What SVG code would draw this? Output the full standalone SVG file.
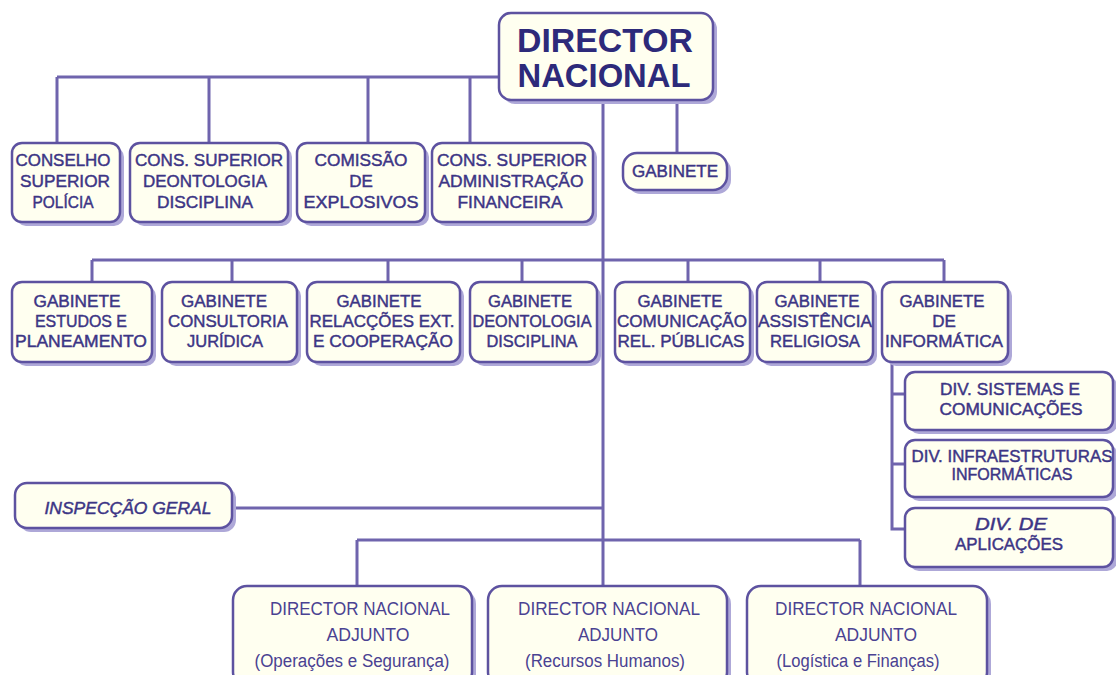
<svg xmlns="http://www.w3.org/2000/svg" width="1116" height="675" viewBox="0 0 1116 675">
<style>
.sh{fill:#aea8d8}
.bx{fill:#fffff0;stroke:#5d52a0;stroke-width:2.5}
.t{font-family:"Liberation Sans",Arial,sans-serif;font-size:17px;fill:#3c3585;stroke:#3c3585;stroke-width:0.45;text-anchor:middle}
.tt{font-family:"Liberation Sans",Arial,sans-serif;font-size:34px;font-weight:bold;fill:#2d2a7a;text-anchor:middle}
.tb{font-family:"Liberation Sans",Arial,sans-serif;font-size:18px;fill:#4a4292;text-anchor:middle}
.i{font-style:italic}
.c{fill:none;stroke:#6f64ad;stroke-width:3}
</style>
<rect width="1116" height="675" fill="#ffffff"/>
<g id="connectors" class="c">
<path d="M57 77H499M57 77V143M209 77V143M368 77V143M470 77V143"/>
<path d="M677 100V153"/>
<path d="M603 100V586"/>
<path d="M92 260H944M92 260V282M232 260V282M388 260V282M522 260V282M688 260V282M820 260V282M944 260V282"/>
<path d="M892 362V529H905M892 394H905M892 464H905"/>
<path d="M232 508H603"/>
<path d="M357 540H860M357 540V586M860 540V586"/>
</g>
<g id="director">
<rect class="sh" x="503" y="17" width="214" height="87" rx="12"/>
<rect class="bx" x="499" y="13" width="214" height="87" rx="12"/>
<text class="tt" x="605" y="52" textLength="176" lengthAdjust="spacingAndGlyphs">DIRECTOR</text>
<text class="tt" x="604" y="87" textLength="173" lengthAdjust="spacingAndGlyphs">NACIONAL</text>
</g>
<g id="conselho">
<rect class="sh" x="16" y="147" width="108" height="79" rx="10"/>
<rect class="bx" x="12" y="143" width="108" height="79" rx="10"/>
<text class="t" x="63" y="166" textLength="95" lengthAdjust="spacingAndGlyphs">CONSELHO</text>
<text class="t" x="65" y="187" textLength="90" lengthAdjust="spacingAndGlyphs">SUPERIOR</text>
<text class="t" x="63" y="208" textLength="61" lengthAdjust="spacingAndGlyphs">POLÍCIA</text>
</g>
<g id="deontologia">
<rect class="sh" x="134" y="147" width="158" height="79" rx="10"/>
<rect class="bx" x="130" y="143" width="158" height="79" rx="10"/>
<text class="t" x="209" y="166" textLength="148" lengthAdjust="spacingAndGlyphs">CONS. SUPERIOR</text>
<text class="t" x="205" y="187" textLength="124" lengthAdjust="spacingAndGlyphs">DEONTOLOGIA</text>
<text class="t" x="205" y="208" textLength="96" lengthAdjust="spacingAndGlyphs">DISCIPLINA</text>
</g>
<g id="explosivos">
<rect class="sh" x="301" y="147" width="128" height="79" rx="10"/>
<rect class="bx" x="297" y="143" width="128" height="79" rx="10"/>
<text class="t" x="361" y="166" textLength="93" lengthAdjust="spacingAndGlyphs">COMISSÃO</text>
<text class="t" x="361" y="187">DE</text>
<text class="t" x="361" y="208" textLength="115" lengthAdjust="spacingAndGlyphs">EXPLOSIVOS</text>
</g>
<g id="administracao">
<rect class="sh" x="436" y="147" width="161" height="79" rx="10"/>
<rect class="bx" x="432" y="143" width="161" height="79" rx="10"/>
<text class="t" x="512" y="166" textLength="150" lengthAdjust="spacingAndGlyphs">CONS. SUPERIOR</text>
<text class="t" x="511" y="187" textLength="145" lengthAdjust="spacingAndGlyphs">ADMINISTRAÇÃO</text>
<text class="t" x="510" y="208" textLength="105" lengthAdjust="spacingAndGlyphs">FINANCEIRA</text>
</g>
<g id="gabinete">
<rect class="sh" x="627" y="157" width="104" height="37" rx="14"/>
<rect class="bx" x="623" y="153" width="104" height="37" rx="14"/>
<text class="t" x="675" y="177" textLength="86" lengthAdjust="spacingAndGlyphs">GABINETE</text>
</g>
<g id="gab-estudos">
<rect class="sh" x="16" y="286" width="140" height="80" rx="10"/>
<rect class="bx" x="12" y="282" width="140" height="80" rx="10"/>
<text class="t" x="77" y="307" textLength="87" lengthAdjust="spacingAndGlyphs">GABINETE</text>
<text class="t" x="81" y="327" textLength="92" lengthAdjust="spacingAndGlyphs">ESTUDOS E</text>
<text class="t" x="81" y="347" textLength="132" lengthAdjust="spacingAndGlyphs">PLANEAMENTO</text>
</g>
<g id="gab-juridica">
<rect class="sh" x="166" y="286" width="135" height="80" rx="10"/>
<rect class="bx" x="162" y="282" width="135" height="80" rx="10"/>
<text class="t" x="224" y="307" textLength="86" lengthAdjust="spacingAndGlyphs">GABINETE</text>
<text class="t" x="228" y="327" textLength="120" lengthAdjust="spacingAndGlyphs">CONSULTORIA</text>
<text class="t" x="225" y="347" textLength="76" lengthAdjust="spacingAndGlyphs">JURÍDICA</text>
</g>
<g id="gab-relacoes">
<rect class="sh" x="311" y="286" width="153" height="80" rx="10"/>
<rect class="bx" x="307" y="282" width="153" height="80" rx="10"/>
<text class="t" x="379" y="307" textLength="85" lengthAdjust="spacingAndGlyphs">GABINETE</text>
<text class="t" x="382" y="327" textLength="145" lengthAdjust="spacingAndGlyphs">RELACÇÕES EXT.</text>
<text class="t" x="383" y="347" textLength="140" lengthAdjust="spacingAndGlyphs">E COOPERAÇÃO</text>
</g>
<g id="gab-deontologia">
<rect class="sh" x="474" y="286" width="127" height="80" rx="10"/>
<rect class="bx" x="470" y="282" width="127" height="80" rx="10"/>
<text class="t" x="530" y="307" textLength="84" lengthAdjust="spacingAndGlyphs">GABINETE</text>
<text class="t" x="532" y="327" textLength="119" lengthAdjust="spacingAndGlyphs">DEONTOLOGIA</text>
<text class="t" x="532" y="347" textLength="91" lengthAdjust="spacingAndGlyphs">DISCIPLINA</text>
</g>
<g id="gab-comunicacao">
<rect class="sh" x="619" y="286" width="135" height="80" rx="10"/>
<rect class="bx" x="615" y="282" width="135" height="80" rx="10"/>
<text class="t" x="680" y="307" textLength="85" lengthAdjust="spacingAndGlyphs">GABINETE</text>
<text class="t" x="682" y="327" textLength="130" lengthAdjust="spacingAndGlyphs">COMUNICAÇÃO</text>
<text class="t" x="681" y="347" textLength="127" lengthAdjust="spacingAndGlyphs">REL. PÚBLICAS</text>
</g>
<g id="gab-assistencia">
<rect class="sh" x="761" y="286" width="116" height="80" rx="10"/>
<rect class="bx" x="757" y="282" width="116" height="80" rx="10"/>
<text class="t" x="817" y="307" textLength="85" lengthAdjust="spacingAndGlyphs">GABINETE</text>
<text class="t" x="815" y="327" textLength="114" lengthAdjust="spacingAndGlyphs">ASSISTÊNCIA</text>
<text class="t" x="815" y="347" textLength="90" lengthAdjust="spacingAndGlyphs">RELIGIOSA</text>
</g>
<g id="gab-informatica">
<rect class="sh" x="886" y="286" width="126" height="80" rx="10"/>
<rect class="bx" x="882" y="282" width="126" height="80" rx="10"/>
<text class="t" x="942" y="307" textLength="85" lengthAdjust="spacingAndGlyphs">GABINETE</text>
<text class="t" x="944" y="327">DE</text>
<text class="t" x="944" y="347" textLength="118" lengthAdjust="spacingAndGlyphs">INFORMÁTICA</text>
</g>
<g id="div-sistemas">
<rect class="sh" x="909" y="376" width="208" height="58" rx="10"/>
<rect class="bx" x="905" y="372" width="208" height="58" rx="10"/>
<text class="t" x="1010" y="395" textLength="140" lengthAdjust="spacingAndGlyphs">DIV. SISTEMAS E</text>
<text class="t" x="1011" y="415" textLength="143" lengthAdjust="spacingAndGlyphs">COMUNICAÇÕES</text>
</g>
<g id="div-infra">
<rect class="sh" x="909" y="444" width="208" height="57" rx="10"/>
<rect class="bx" x="905" y="440" width="208" height="57" rx="10"/>
<text class="t" x="1012" y="462" textLength="201" lengthAdjust="spacingAndGlyphs">DIV. INFRAESTRUTURAS</text>
<text class="t" x="1012" y="480" textLength="121" lengthAdjust="spacingAndGlyphs">INFORMÁTICAS</text>
</g>
<g id="div-aplicacoes">
<rect class="sh" x="909" y="512" width="208" height="59" rx="10"/>
<rect class="bx" x="905" y="508" width="208" height="59" rx="10"/>
<text class="t i" x="1011" y="530" textLength="72" lengthAdjust="spacingAndGlyphs">DIV. DE</text>
<text class="t" x="1009" y="550" textLength="108" lengthAdjust="spacingAndGlyphs">APLICAÇÕES</text>
</g>
<g id="inspeccao">
<rect class="sh" x="19" y="487" width="217" height="45" rx="12"/>
<rect class="bx" x="15" y="483" width="217" height="45" rx="12"/>
<text class="t i" x="128" y="514" textLength="167" lengthAdjust="spacingAndGlyphs">INSPECÇÃO GERAL</text>
</g>
<g id="adjunto-operacoes">
<rect class="sh" x="237" y="590" width="239" height="100" rx="14"/>
<rect class="bx" x="233" y="586" width="239" height="100" rx="14"/>
<text class="tb" x="360" y="615" textLength="180" lengthAdjust="spacingAndGlyphs">DIRECTOR NACIONAL</text>
<text class="tb" x="368" y="641" textLength="83" lengthAdjust="spacingAndGlyphs">ADJUNTO</text>
<text class="tb" x="352" y="667" textLength="195" lengthAdjust="spacingAndGlyphs">(Operações e Segurança)</text>
</g>
<g id="adjunto-recursos">
<rect class="sh" x="492" y="590" width="239" height="100" rx="14"/>
<rect class="bx" x="488" y="586" width="239" height="100" rx="14"/>
<text class="tb" x="609" y="615" textLength="182" lengthAdjust="spacingAndGlyphs">DIRECTOR NACIONAL</text>
<text class="tb" x="618" y="641" textLength="80" lengthAdjust="spacingAndGlyphs">ADJUNTO</text>
<text class="tb" x="605" y="667" textLength="160" lengthAdjust="spacingAndGlyphs">(Recursos Humanos)</text>
</g>
<g id="adjunto-logistica">
<rect class="sh" x="751" y="590" width="240" height="100" rx="14"/>
<rect class="bx" x="747" y="586" width="240" height="100" rx="14"/>
<text class="tb" x="866" y="615" textLength="182" lengthAdjust="spacingAndGlyphs">DIRECTOR NACIONAL</text>
<text class="tb" x="876" y="641" textLength="82" lengthAdjust="spacingAndGlyphs">ADJUNTO</text>
<text class="tb" x="858" y="667" textLength="163" lengthAdjust="spacingAndGlyphs">(Logística e Finanças)</text>
</g>
</svg>
